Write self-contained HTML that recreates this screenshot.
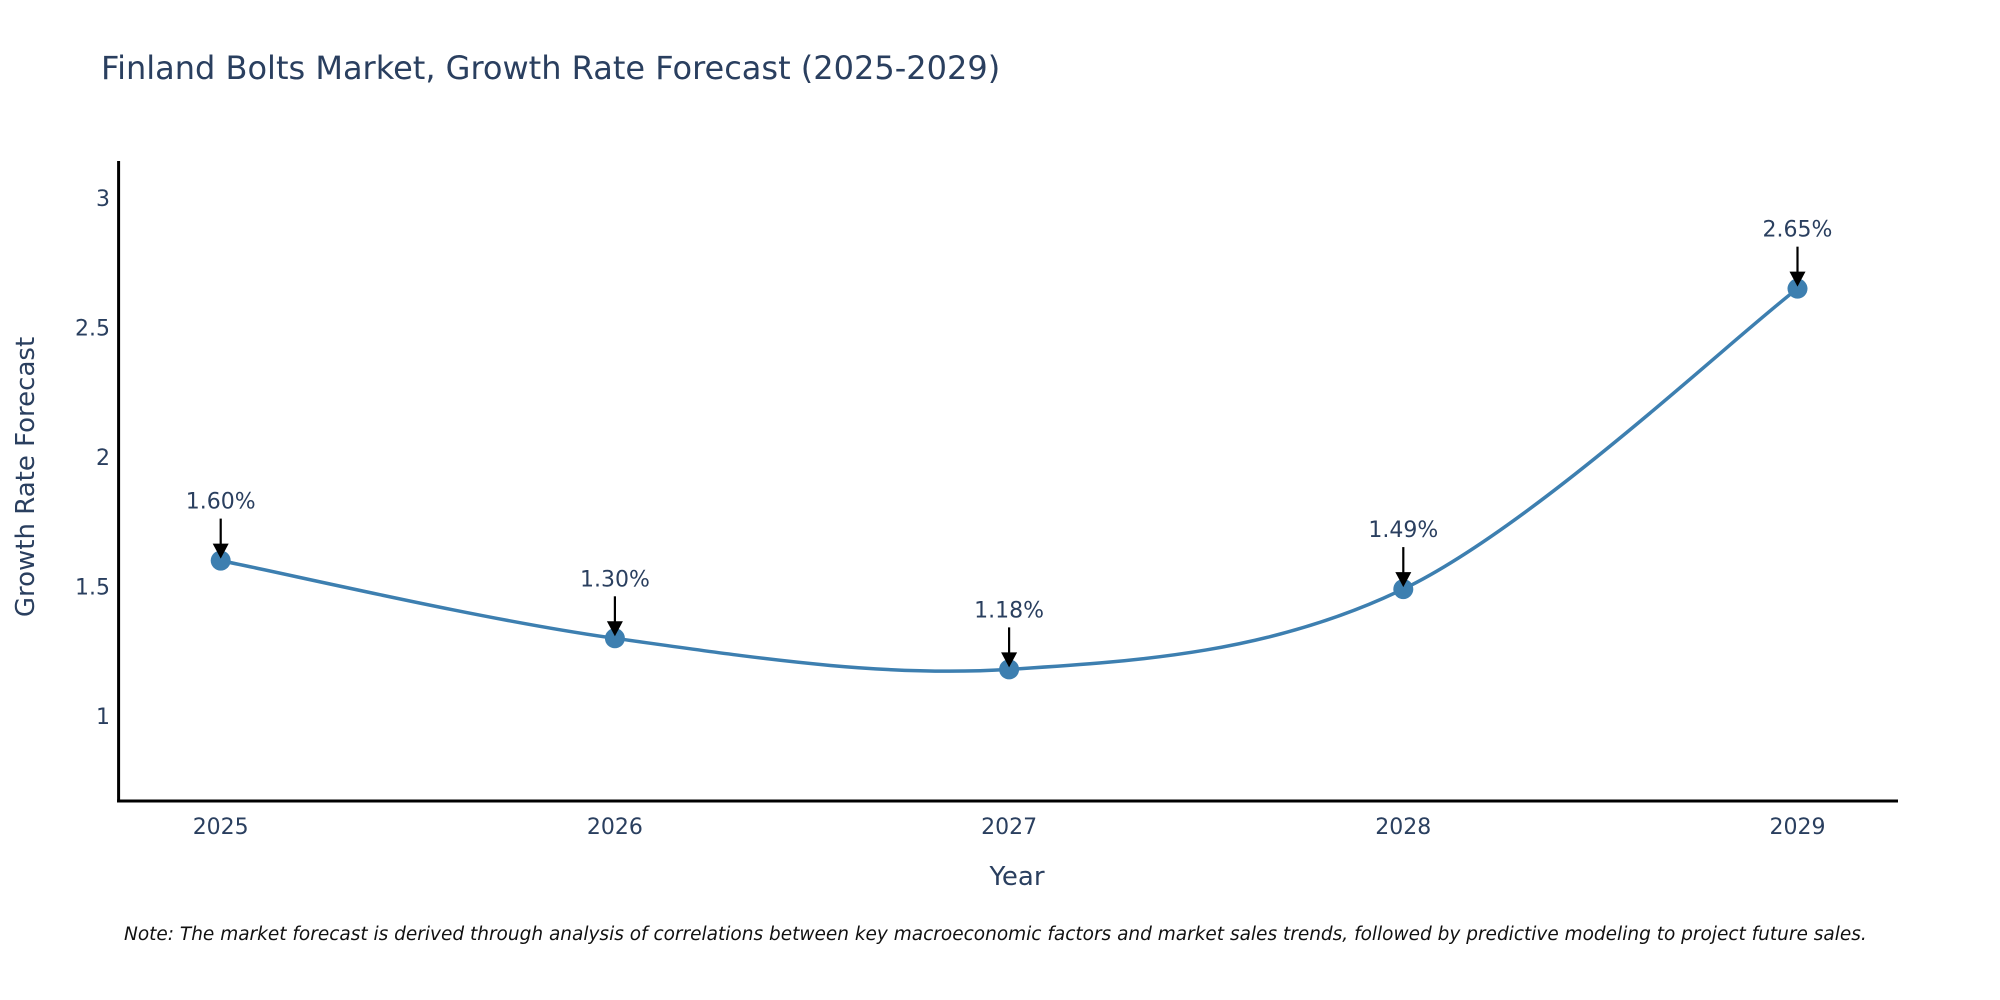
<!DOCTYPE html>
<html><head><meta charset="utf-8"><style>
body{margin:0;background:#fff;}
svg{display:block;font-family:"DejaVu Sans","Liberation Sans",sans-serif;}
</style></head><body>
<svg id="chart" width="2000" height="1000">
<text x="101" y="79" font-size="32" fill="#2a3f5f">Finland Bolts Market, Growth Rate Forecast (2025-2029)</text>
<g id="axes"></g>
<g id="series"></g>
<text x="1017" y="885" font-size="26" fill="#2a3f5f" text-anchor="middle">Year</text>
<text transform="translate(34,477) rotate(-90)" font-size="26" fill="#2a3f5f" text-anchor="middle">Growth Rate Forecast</text>
<text x="124" y="940" font-size="18.5" font-style="italic" fill="#111">Note: The market forecast is derived through analysis of correlations between key macroeconomic factors and market sales trends, followed by predictive modeling to project future sales.</text>
</svg>
<script>
const years=[2025,2026,2027,2028,2029];
const values=[1.60,1.30,1.18,1.49,2.65];
const labels=["1.60%","1.30%","1.18%","1.49%","2.65%"];
const yTicks=[1,1.5,2,2.5,3];
const yTickLabels=["1","1.5","2","2.5","3"];
const NS="http://www.w3.org/2000/svg";
const X0=118.6,X1=1898,Y0=801,Y1=161;
function xs(v){return 220.7+(v-2025)*394.2;}
function ys(v){return 716-(v-1)*259;}
function mk(t,a,p){const e=document.createElementNS(NS,t);for(const k in a)e.setAttribute(k,a[k]);p.appendChild(e);return e;}
const ax=document.getElementById('axes'),se=document.getElementById('series');
const yl=mk('line',{x1:X0,y1:Y1,x2:X0,y2:Y0+1.5,stroke:'#000','stroke-width':3},ax);


const xl=mk('line',{x1:X0-1.5,y1:Y0,x2:X1,y2:Y0,stroke:'#000','stroke-width':3},ax);


yTicks.forEach((t,i)=>{const e=mk('text',{x:110,y:ys(t)+8,'font-size':22,fill:'#2a3f5f','text-anchor':'end'},ax);e.textContent=yTickLabels[i];

});
years.forEach(y=>{const e=mk('text',{x:xs(y),y:834,'font-size':22,fill:'#2a3f5f','text-anchor':'middle'},ax);e.textContent=String(y);

});
const pts=years.map((y,i)=>[xs(y),ys(values[i])]);
let d='M'+pts[0][0]+','+pts[0][1];
const s=1/6;
for(let i=0;i<pts.length-1;i++){const p0=pts[Math.max(0,i-1)],p1=pts[i],p2=pts[i+1],p3=pts[Math.min(pts.length-1,i+2)];
const c1=[p1[0]+(p2[0]-p0[0])*s,p1[1]+(p2[1]-p0[1])*s],c2=[p2[0]-(p3[0]-p1[0])*s,p2[1]-(p3[1]-p1[1])*s];
d+=' C'+c1+' '+c2+' '+p2;}
const line=mk('path',{d:d,fill:'none',stroke:'#3d7fb0','stroke-width':3.5},se);


mk('defs',{},se).innerHTML='<marker id="ah" viewBox="0 0 10 10" refX="9" refY="5" markerWidth="8" markerHeight="8" markerUnits="userSpaceOnUse" orient="auto"></marker>';
pts.forEach((p,i)=>{
const c=mk('circle',{cx:p[0],cy:p[1],r:10,fill:'#3d7fb0'},se);


const a=mk('line',{x1:p[0],y1:p[1]-42,x2:p[0],y2:p[1]-14,stroke:'#000','stroke-width':2.2},se);


const h=mk('path',{d:'M'+(p[0]-8)+','+(p[1]-17)+' L'+(p[0]+8)+','+(p[1]-17)+' L'+p[0]+','+(p[1]-2)+' Z',fill:'#000'},se);


const t=mk('text',{x:p[0],y:p[1]-52,'font-size':22,fill:'#2a3f5f','text-anchor':'middle'},se);t.textContent=labels[i];


});
</script>
</body></html>
